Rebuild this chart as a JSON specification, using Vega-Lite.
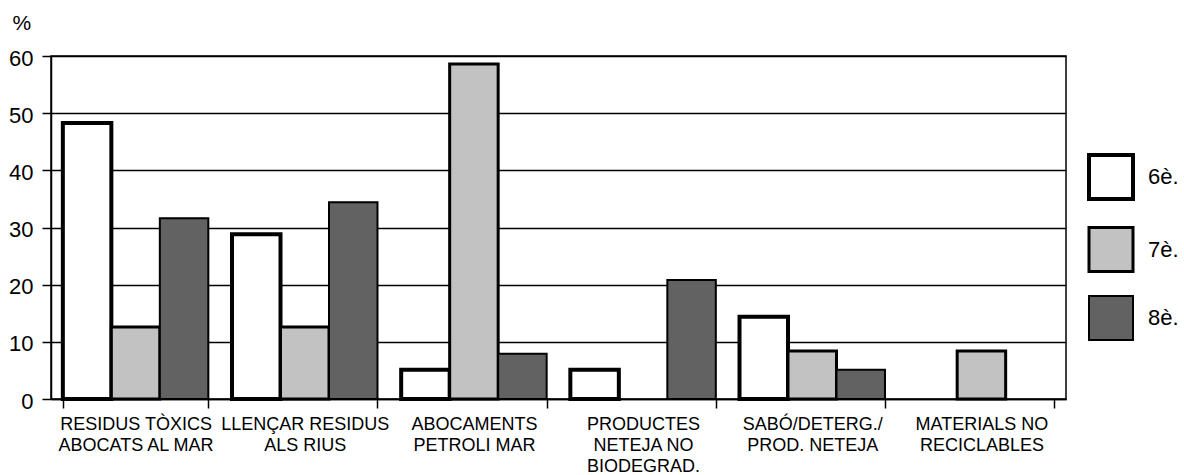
{
  "$schema": "https://vega.github.io/schema/vega-lite/v6.json",
  "width": 1015,
  "height": 343,
  "autosize": {"type": "none"},
  "padding": {"left": 51, "top": 56, "right": 118, "bottom": 76},
  "background": "white",
  "config": {
    "font": "Liberation Sans",
    "view": {"stroke": "black", "strokeWidth": 1.5}
  },
  "data": {
    "values": [
      {"cat": "RESIDUS TÒXICS|ABOCATS AL MAR", "grade": "6è.", "pct": 48.3},
      {"cat": "RESIDUS TÒXICS|ABOCATS AL MAR", "grade": "7è.", "pct": 12.6},
      {"cat": "RESIDUS TÒXICS|ABOCATS AL MAR", "grade": "8è.", "pct": 31.6},
      {"cat": "LLENÇAR RESIDUS|ALS RIUS", "grade": "6è.", "pct": 28.8},
      {"cat": "LLENÇAR RESIDUS|ALS RIUS", "grade": "7è.", "pct": 12.6},
      {"cat": "LLENÇAR RESIDUS|ALS RIUS", "grade": "8è.", "pct": 34.4},
      {"cat": "ABOCAMENTS|PETROLI MAR", "grade": "6è.", "pct": 5.1},
      {"cat": "ABOCAMENTS|PETROLI MAR", "grade": "7è.", "pct": 58.6},
      {"cat": "ABOCAMENTS|PETROLI MAR", "grade": "8è.", "pct": 7.9},
      {"cat": "PRODUCTES|NETEJA NO|BIODEGRAD.", "grade": "6è.", "pct": 5.1},
      {"cat": "PRODUCTES|NETEJA NO|BIODEGRAD.", "grade": "8è.", "pct": 20.8},
      {"cat": "SABÓ/DETERG./|PROD. NETEJA", "grade": "6è.", "pct": 14.4},
      {"cat": "SABÓ/DETERG./|PROD. NETEJA", "grade": "7è.", "pct": 8.4},
      {"cat": "SABÓ/DETERG./|PROD. NETEJA", "grade": "8è.", "pct": 5.1},
      {"cat": "MATERIALS NO|RECICLABLES", "grade": "7è.", "pct": 8.4}
    ]
  },
  "mark": {"type": "bar", "stroke": "black"},
  "encoding": {
    "x": {
      "field": "cat",
      "type": "nominal",
      "sort": null,
      "scale": {"paddingInner": 0.14, "paddingOuter": 0.07},
      "axis": {
        "title": null,
        "labelAngle": 0,
        "labelExpr": "split(datum.label, '|')",
        "labelFontSize": 18,
        "labelLineHeight": 21,
        "labelColor": "black",
        "labelPadding": 7,
        "labelBaseline": "top",
        "labelOverlap": false,
        "labelLimit": 300,
        "tickBand": "extent",
        "tickSize": 9,
        "tickColor": "black",
        "tickWidth": 1.5,
        "domainColor": "black",
        "domainWidth": 1.5
      }
    },
    "xOffset": {
      "field": "grade",
      "type": "nominal",
      "scale": {"domain": ["6è.", "7è.", "8è."], "paddingInner": 0, "paddingOuter": 0}
    },
    "y": {
      "field": "pct",
      "type": "quantitative",
      "scale": {"domain": [0, 60], "nice": false},
      "axis": {
        "title": "%",
        "titleAngle": 0,
        "titleX": -39,
        "titleY": -27,
        "titleAlign": "left",
        "titleBaseline": "alphabetic",
        "titleFontSize": 21,
        "titleFontWeight": "normal",
        "titleColor": "black",
        "values": [0, 10, 20, 30, 40, 50, 60],
        "grid": true,
        "gridColor": "black",
        "gridWidth": 1.5,
        "gridOpacity": 1,
        "domainColor": "black",
        "domainWidth": 1.5,
        "tickColor": "black",
        "tickSize": 9,
        "tickWidth": 1.5,
        "labelFontSize": 22,
        "labelColor": "black",
        "labelPadding": 9,
        "labelOffset": 2
      }
    },
    "fill": {
      "field": "grade",
      "type": "nominal",
      "scale": {"domain": ["6è.", "7è.", "8è."], "range": ["white", "#c2c2c2", "#626262"]},
      "legend": {
        "title": null,
        "orient": "none",
        "legendX": 1036,
        "legendY": 97,
        "symbolType": "square",
        "symbolSize": 1936,
        "symbolStrokeColor": "black",
        "symbolStrokeWidth": 2,
        "symbolOpacity": 1,
        "labelFontSize": 22,
        "labelColor": "black",
        "labelOffset": 13,
        "rowPadding": 14
      }
    },
    "strokeWidth": {
      "field": "grade",
      "type": "ordinal",
      "scale": {"domain": ["6è.", "7è.", "8è."], "range": [4, 2, 2]},
      "legend": null
    }
  }
}
